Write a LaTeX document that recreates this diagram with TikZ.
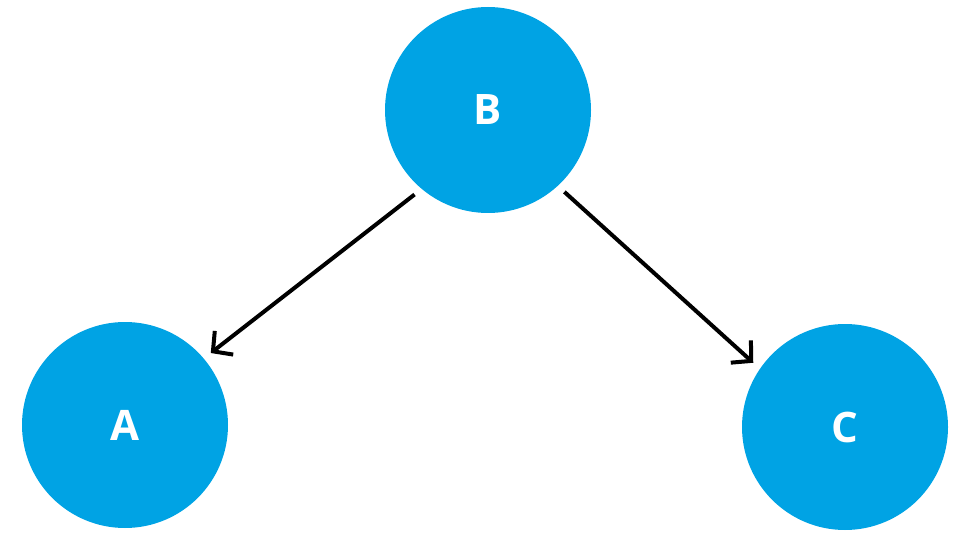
\documentclass[tikz,border=0pt]{standalone}
\usepackage{fontspec}
\setmainfont{Open Sans}
\usetikzlibrary{arrows.meta}
\definecolor{nodeblue}{HTML}{00A3E4}

\tikzset{
    vertex/.style={circle, fill=nodeblue, minimum size=206pt, inner sep=0pt,
        outer sep=9pt, text=white, font=\fontsize{42}{42}\selectfont\bfseries},
    edge/.style={line width=4pt, -{Straight Barb[length=14pt, width=30pt, line width=4pt]}}
}

\begin{document}
\begin{tikzpicture}[x=1pt, y=-1pt]
    \useasboundingbox (0,0) rectangle (976,537);
    \node[vertex] (B) at (488,110) {B};
    \node[vertex] (A) at (125,425) {A};
    \node[vertex] (C) at (845,427) {C};
    \draw[edge] (B.229) -- (A.40);
    \draw[edge] (B.313) -- (C.145);
\end{tikzpicture}
\end{document}
